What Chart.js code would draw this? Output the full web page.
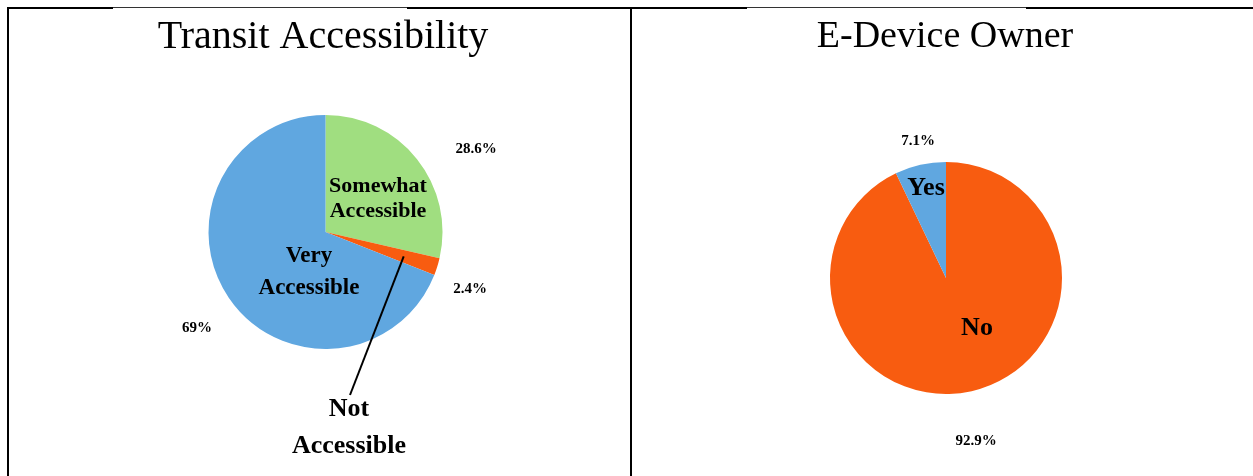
<!DOCTYPE html>
<html>
<head>
<meta charset="utf-8">
<script src="https://cdn.jsdelivr.net/npm/chart.js@4/dist/chart.umd.min.js"></script>
<style>
  html, body { margin: 0; padding: 0; background: #fff; }
  body { width: 1253px; height: 476px; position: relative; overflow: hidden; }
  .wrap { position: absolute; top: 0; }
  .ln { position: absolute; background: #000; }
</style>
</head>
<body>
<div class="ln" style="left:7px;top:7px;width:106px;height:2px;"></div>
<div class="ln" style="left:113px;top:7px;width:294px;height:1px;background:#333;"></div>
<div class="ln" style="left:407px;top:7px;width:340px;height:2px;"></div>
<div class="ln" style="left:747px;top:7px;width:279px;height:1px;background:#333;"></div>
<div class="ln" style="left:1026px;top:7px;width:227px;height:2px;"></div>
<div class="ln" style="left:7px;top:7px;width:2px;height:469px;"></div>
<div class="ln" style="left:630px;top:7px;width:2px;height:469px;"></div>

<div class="wrap" style="left:0;width:631px;height:476px;"><canvas id="c1" width="631" height="476"></canvas></div>
<div class="wrap" style="left:631px;width:622px;height:476px;"><canvas id="c2" width="622" height="476"></canvas></div>

<script>
// ---- Data ----
const transitTitle = "Transit Accessibility";
const transitCategories = ["Somewhat Accessible", "Not Accessible", "Very Accessible"];
const transitValues = [28.6, 2.4, 69];
const transitPctLabels = ["28.6%", "2.4%", "69%"];

const deviceTitle = "E-Device Owner";
const deviceCategories = ["No", "Yes"];
const deviceValues = [92.9, 7.1];
const devicePctLabels = ["92.9%", "7.1%"];

const SERIF = '"Liberation Serif", "Times New Roman", serif';

// label placements (offsets in units of pie radius from centre)
function labelPlugin(cfg) {
  return {
    id: 'labels_' + cfg.id,
    afterDraw(chart) {
      const ctx = chart.ctx;
      const arc = chart.getDatasetMeta(0).data[0];
      const cx = arc.x, cy = arc.y, r = arc.outerRadius;
      ctx.save();
      ctx.fillStyle = '#000';
      ctx.textAlign = 'center';
      ctx.textBaseline = 'middle';
      // title
      ctx.font = cfg.titleSize + 'px ' + SERIF;
      ctx.fillText(cfg.title, cfg.titleX, cfg.titleY);
      // leader lines
      (cfg.leaders || []).forEach(L => {
        const el = chart.getDatasetMeta(0).data[L.index];
        const mid = (el.startAngle + el.endAngle) / 2;
        const sx = cx + Math.cos(mid) * r * L.from;
        const sy = cy + Math.sin(mid) * r * L.from;
        ctx.beginPath();
        ctx.lineWidth = 2;
        ctx.strokeStyle = '#000';
        ctx.moveTo(sx, sy);
        ctx.lineTo(cx + L.to[0] * r, cy + L.to[1] * r);
        ctx.stroke();
      });
      cfg.texts.forEach(t => {
        ctx.font = 'bold ' + t.size + 'px ' + SERIF;
        ctx.fillText(t.text, cx + t.dx * r, cy + t.dy * r);
      });
      ctx.restore();
    }
  };
}

Chart.defaults.animation = false;

const R1 = 117;
new Chart(document.getElementById('c1'), {
  type: 'pie',
  data: {
    labels: transitCategories,
    datasets: [{
      data: transitValues,
      backgroundColor: ['#A0DE80', '#F85C10', '#60A7E0'],
      borderWidth: 0
    }]
  },
  options: {
    responsive: false,
    layout: { padding: { left: 208, right: 188, top: 115, bottom: 127 } },
    plugins: { legend: { display: false }, tooltip: { enabled: false }, title: { display: false } }
  },
  plugins: [labelPlugin({
    id: 'a', title: transitTitle, titleX: 323, titleY: 37, titleSize: 40,
    leaders: [{ index: 1, from: 0.70, to: [24.5 / R1, 163 / R1] }],
    texts: [
      { text: transitPctLabels[0], size: 15, dx: 150.5 / R1, dy: -83 / R1 },
      { text: 'Somewhat', size: 22, dx: 52.5 / R1, dy: -46 / R1 },
      { text: 'Accessible', size: 22, dx: 52.5 / R1, dy: -21 / R1 },
      { text: 'Very', size: 23, dx: -16.5 / R1, dy: 24 / R1 },
      { text: 'Accessible', size: 23, dx: -16.5 / R1, dy: 56 / R1 },
      { text: transitPctLabels[1], size: 15, dx: 144.5 / R1, dy: 57 / R1 },
      { text: transitPctLabels[2], size: 15, dx: -128.5 / R1, dy: 96 / R1 },
      { text: 'Not', size: 26, dx: 23.5 / R1, dy: 177 / R1 },
      { text: 'Accessible', size: 26, dx: 23.5 / R1, dy: 214 / R1 }
    ]
  })]
});

const R2 = 116;
new Chart(document.getElementById('c2'), {
  type: 'pie',
  data: {
    labels: deviceCategories,
    datasets: [{
      data: deviceValues,
      backgroundColor: ['#F85C10', '#60A7E0'],
      borderWidth: 0
    }]
  },
  options: {
    responsive: false,
    layout: { padding: { left: 199, right: 191, top: 162, bottom: 82 } },
    plugins: { legend: { display: false }, tooltip: { enabled: false }, title: { display: false } }
  },
  plugins: [labelPlugin({
    id: 'b', title: deviceTitle, titleX: 314, titleY: 37, titleSize: 38,
    texts: [
      { text: devicePctLabels[1], size: 15, dx: -28 / R2, dy: -137 / R2 },
      { text: 'Yes', size: 26, dx: -20 / R2, dy: -90 / R2 },
      { text: 'No', size: 26, dx: 31 / R2, dy: 50 / R2 },
      { text: devicePctLabels[0], size: 15, dx: 30 / R2, dy: 163 / R2 }
    ]
  })]
});
</script>
</body>
</html>
